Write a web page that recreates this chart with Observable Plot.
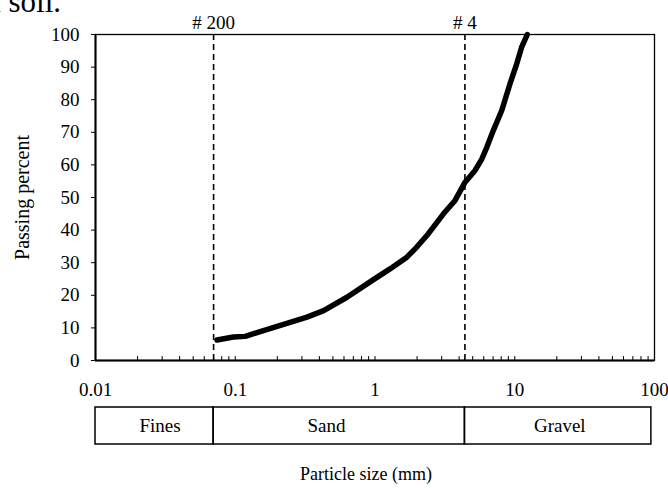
<!DOCTYPE html>
<html>
<head>
<meta charset="utf-8">
<script src="https://cdn.jsdelivr.net/npm/d3@7"></script>
<script src="https://cdn.jsdelivr.net/npm/@observablehq/plot@0.6"></script>
<style>
html, body { margin: 0; padding: 0; background: #fff; }
#wrap { position: relative; width: 668px; height: 488px; overflow: hidden;
  font-family: "Liberation Serif", "Times New Roman", serif; color: #000; }
#title { position: absolute; z-index: 2; left: -13px; top: -14px; font-size: 31px; line-height: 31px; white-space: nowrap; }
#main { position: absolute; left: 0; top: 0; }
#band { position: absolute; left: 0; top: 400px; }
#xlabel { position: absolute; left: 0; top: 465px; width: 732px; text-align: center; font-size: 18px; line-height: 18px; }
</style>
</head>
<body>
<div id="wrap">
  <div id="main"></div>
  <div id="band"></div>
  <div id="xlabel">Particle size (mm)</div>
  <div id="title">a soil.</div>
</div>
<script>
// Grain size distribution
const size    = [0.074, 0.097, 0.118, 0.147, 0.234, 0.326, 0.429, 0.63, 0.975, 1.28, 1.69, 1.99, 2.41, 3.09, 3.74, 4.41, 5.2, 5.81, 6.31, 7.03, 8.07, 9.25, 10.33, 11.2, 12.3];
const passing = [6.3,   7.2,   7.4,   8.7,   11.4,  13.3,  15.3,  19.4, 24.8,  28.1, 31.7, 34.8, 38.9, 45.0, 49.1, 54.7, 58.3, 61.8, 65.4, 70.6, 76.7, 84.9, 91.0,  96.1, 100];

// Sieve markers
const sieveSize  = [0.07, 4.4];
const sieveLabel = ["# 200", "# 4"];

// Axis ticks
const xTicks      = [0.01, 0.1, 1, 10, 100];
const xTickLabels = ["0.01", "0.1", "1", "10", "100"];
const yTicks      = [0, 10, 20, 30, 40, 50, 60, 70, 80, 90, 100];

// Soil classes band
const zoneName    = ["Fines", "Sand", "Gravel"];
const zoneFrom    = [0.01, 0.07, 4.4];
const zoneTo      = [0.07, 4.4, 95];
const zoneLabelAt = [0.029, 0.45, 21];

const data = size.map((d, i) => ({size: d, passing: passing[i]}));
const minorTicks = d3.scaleLog().domain([0.01, 100]).ticks().filter(d => d > 0.01 && d < 100);
const zones = zoneName.map((n, i) => ({name: n, from: zoneFrom[i], to: zoneTo[i], at: zoneLabelAt[i]}));

const font = {fontFamily: "'Liberation Serif', 'Times New Roman', serif", fontSize: "19px", color: "black", background: "transparent", overflow: "visible"};

const main = Plot.plot({
  width: 668, height: 400,
  marginLeft: 95, marginRight: 14, marginTop: 34, marginBottom: 40,
  style: font,
  x: {type: "log", domain: [0.01, 100]},
  y: {domain: [0, 100]},
  marks: [
    Plot.frame({stroke: "black", strokeWidth: 1.3}),
    Plot.ruleX(minorTicks, {y1: 0, y2: 1.2, stroke: "black", strokeWidth: 1}),
    Plot.ruleX(sieveSize, {stroke: "black", strokeWidth: 1.6, strokeDasharray: "6,4"}),
    Plot.text(sieveSize, {x: d => d, text: (d, i) => sieveLabel[i], frameAnchor: "top", dy: -19, fill: "black"}),
    Plot.line(data, {x: "size", y: "passing", stroke: "black", strokeWidth: 5.5, strokeLinejoin: "round"}),
    Plot.axisX({ticks: xTicks, tickFormat: d => xTickLabels[xTicks.indexOf(d)], tickSize: 0, tickPadding: 22, label: null}),
    Plot.axisY({ticks: yTicks, tickSize: 4, tickPadding: 12, label: null}),
    Plot.axisY({ticks: [], label: "Passing percent", labelAnchor: "center", labelArrow: "none", labelOffset: 81, fontSize: 20}),
    Plot.ruleX([0.01], {stroke: "black", strokeWidth: 2}),
    Plot.ruleY([0], {stroke: "black", strokeWidth: 2})
  ]
});
document.getElementById("main").append(main);

const band = Plot.plot({
  width: 668, height: 48,
  marginLeft: 95, marginRight: 14, marginTop: 7, marginBottom: 4,
  style: font,
  x: {type: "log", domain: [0.01, 100], axis: null},
  marks: [
    Plot.rect(zones, {x1: "from", x2: "to", fill: "none", stroke: "black", strokeWidth: 1.5}),
    Plot.text(zones, {x: "at", text: "name", frameAnchor: "middle", fill: "black"})
  ]
});
document.getElementById("band").append(band);
</script>
</body>
</html>
